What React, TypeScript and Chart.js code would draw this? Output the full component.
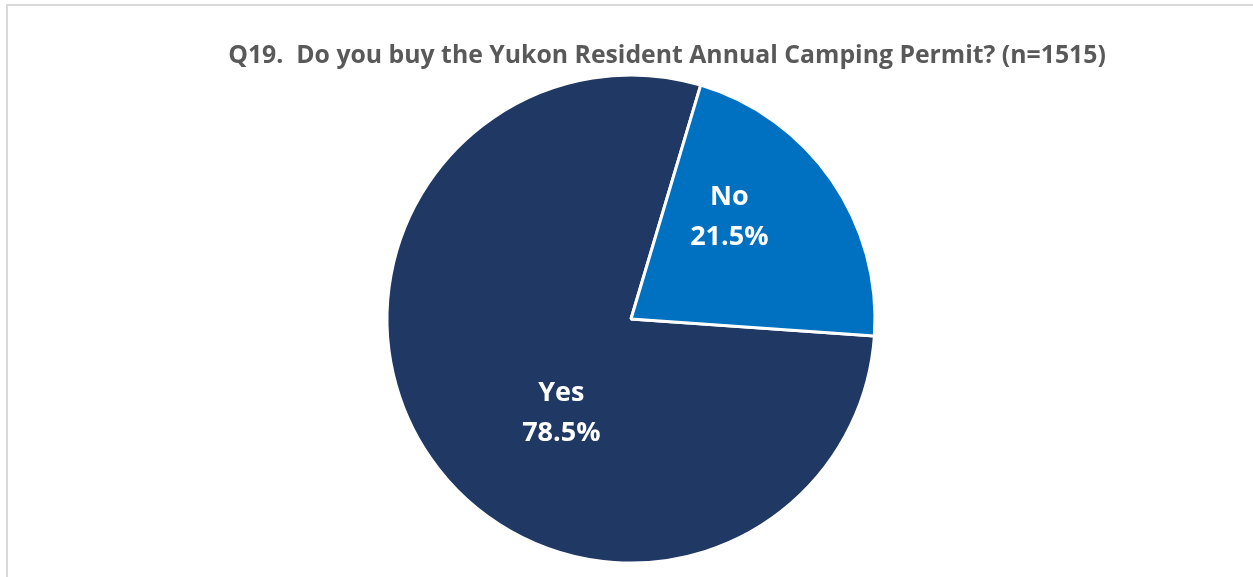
import React, { useEffect, useRef } from "react";
import { Chart, registerables } from "chart.js";

Chart.register(...registerables);

const categories = ["Yes", "No"];
const values = [78.5, 21.5];
const percentLabels = ["78.5%", "21.5%"];
const colors = ["#203864", "#0070C0"];
const titleText = "Q19.  Do you buy the Yukon Resident Annual Camping Permit? (n=1515)";

// label placement (angle in degrees clockwise from top, fraction of radius)
const labelPlacement = [
  { angle: 216.5, frac: 0.48 },
  { angle: 44, frac: 0.58 },
];

const framePlugin = {
  id: "frame",
  beforeDraw(chart: any) {
    const ctx = chart.ctx;
    ctx.save();
    ctx.fillStyle = "#ffffff";
    ctx.fillRect(0, 0, chart.width, chart.height);
    ctx.strokeStyle = "#d9d9d9";
    ctx.lineWidth = 2;
    ctx.beginPath();
    ctx.moveTo(6, 5);
    ctx.lineTo(chart.width, 5);
    ctx.moveTo(7, 5);
    ctx.lineTo(7, chart.height);
    ctx.stroke();
    ctx.restore();
  },
  afterDraw(chart: any) {
    const ctx = chart.ctx;
    ctx.save();
    ctx.fillStyle = "#595959";
    ctx.font = "bold 24.8px 'Open Sans'";
    ctx.textAlign = "center";
    ctx.textBaseline = "middle";
    ctx.fillText(titleText, 667, 56);
    ctx.restore();
  },
};

const labelPlugin = {
  id: "sliceLabels",
  afterDatasetsDraw(chart: any) {
    const ctx = chart.ctx;
    const meta = chart.getDatasetMeta(0);
    ctx.save();
    ctx.fillStyle = "#ffffff";
    ctx.font = "bold 27px 'Open Sans'";
    ctx.textAlign = "center";
    ctx.textBaseline = "middle";
    meta.data.forEach((arc: any, i: number) => {
      const p = labelPlacement[i];
      const a = (p.angle * Math.PI) / 180;
      const r = arc.outerRadius * p.frac;
      const x = arc.x + Math.sin(a) * r;
      const y = arc.y - Math.cos(a) * r;
      ctx.fillText(categories[i], x, y - 20);
      ctx.fillText(percentLabels[i], x, y + 20);
    });
    ctx.restore();
  },
};

export default function App() {
  const ref = useRef<HTMLCanvasElement>(null);
  useEffect(() => {
    document.body.style.margin = "0";
    const chart = new Chart(ref.current as HTMLCanvasElement, {
      type: "pie",
      data: {
        labels: categories,
        datasets: [
          {
            data: values,
            backgroundColor: colors,
            borderColor: "#ffffff",
            borderWidth: 3,
          },
        ],
      },
      options: {
        responsive: false,
        animation: false,
        rotation: 94,
        radius: 244,
        layout: { padding: { left: 388, right: 379, top: 77, bottom: 16 } },
        plugins: {
          legend: { display: false },
          title: { display: false },
          tooltip: { enabled: false },
        },
      } as any,
      plugins: [framePlugin, labelPlugin],
    });
    return () => chart.destroy();
  }, []);
  return (
    <div style={{ width: 1253, height: 577 }}>
      <canvas ref={ref} width={1253} height={577} />
    </div>
  );
}
